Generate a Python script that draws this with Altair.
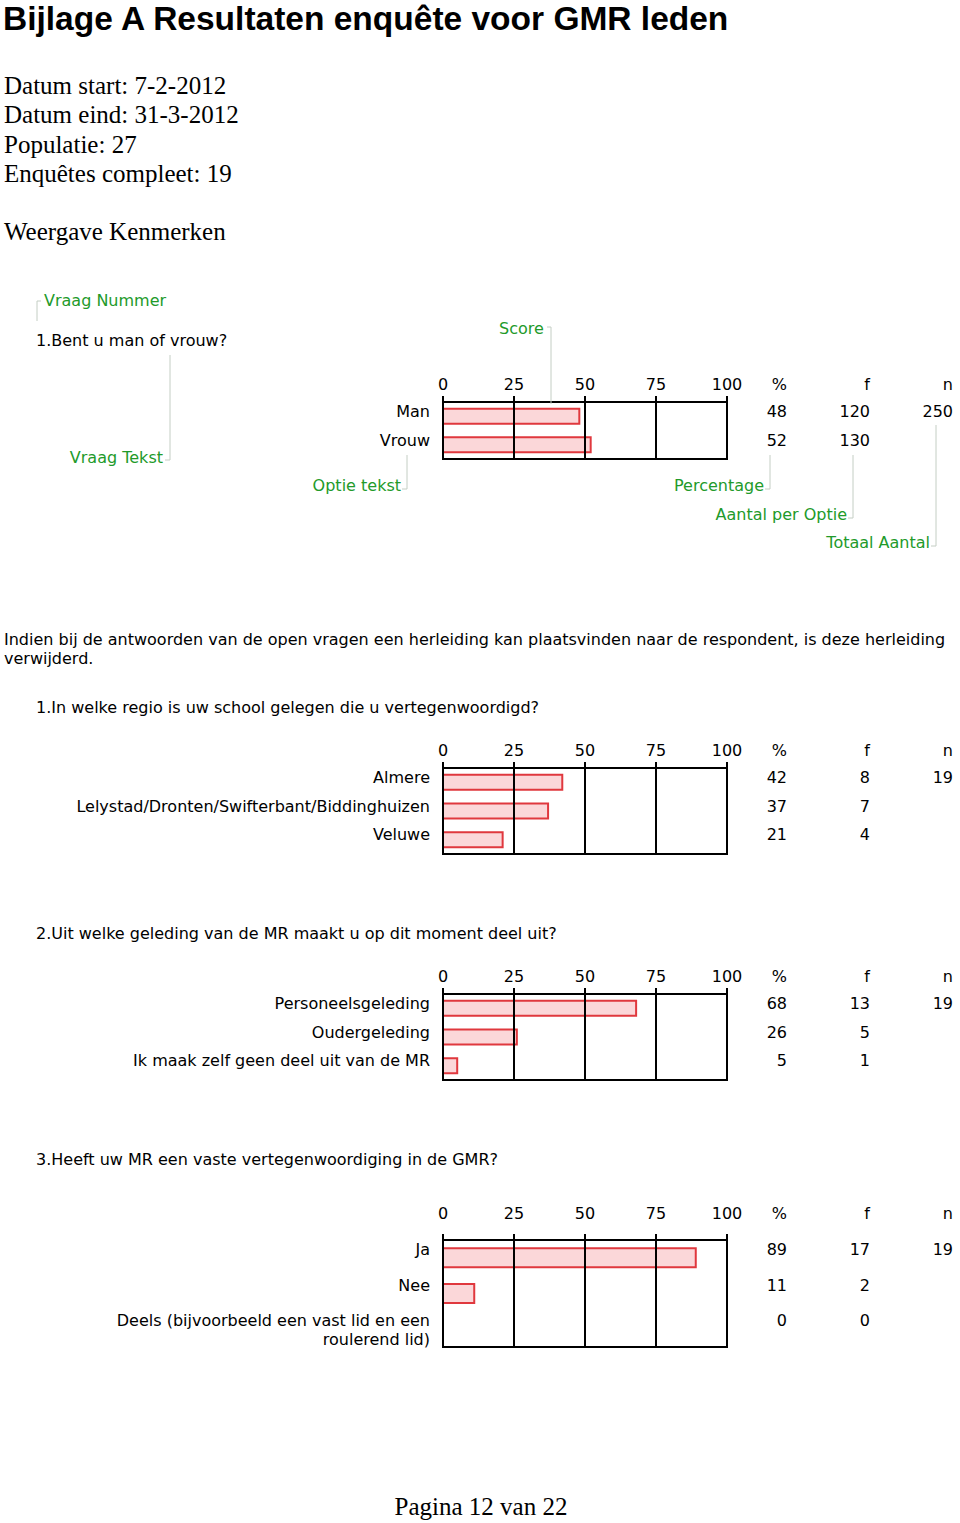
import altair as alt
import pandas as pd

SANS = "DejaVu Sans"
SERIF = "Liberation Serif"
TITLE_FONT = "Liberation Sans"
GREEN = "#229a2a"
LEADER = "#c4cec4"
BAR_FILL = "#fbd7d9"
BAR_STROKE = "#e0383e"

# ---------------- data ----------------
title = "Bijlage A Resultaten enquête voor GMR leden"
info_lines = ["Datum start: 7-2-2012", "Datum eind: 31-3-2012", "Populatie: 27", "Enquêtes compleet: 19"]
subtitle = "Weergave Kenmerken"
disclaimer = ["Indien bij de antwoorden van de open vragen een herleiding kan plaatsvinden naar de respondent, is deze herleiding",
              "verwijderd."]
footer = "Pagina 12 van 22"

ticks = [0, 25, 50, 75, 100]
columns = ["%", "f", "n"]

ex_question = "1.Bent u man of vrouw?"
ex_options = ["Man", "Vrouw"]
ex_pct = [48, 52]
ex_freq = [120, 130]
ex_n = 250

q1_question = "1.In welke regio is uw school gelegen die u vertegenwoordigd?"
q1_options = ["Almere", "Lelystad/Dronten/Swifterbant/Biddinghuizen", "Veluwe"]
q1_pct = [42, 37, 21]
q1_freq = [8, 7, 4]
q1_n = 19

q2_question = "2.Uit welke geleding van de MR maakt u op dit moment deel uit?"
q2_options = ["Personeelsgeleding", "Oudergeleding", "Ik maak zelf geen deel uit van de MR"]
q2_pct = [68, 26, 5]
q2_freq = [13, 5, 1]
q2_n = 19

q3_question = "3.Heeft uw MR een vaste vertegenwoordiging in de GMR?"
q3_options = ["Ja", "Nee", "Deels (bijvoorbeeld een vast lid en een\nroulerend lid)"]
q3_pct = [89, 11, 0]
q3_freq = [17, 2, 0]
q3_n = 19

# ---------------- helpers ----------------
ONE = pd.DataFrame({"k": [0]})


def text_layer(text, x, y, align="left", color="black", font=SANS, size=16,
               weight="normal", line_height=19):
    return alt.Chart(pd.DataFrame({"t": [text]})).mark_text(
        align=align, baseline="alphabetic", color=color, font=font,
        fontSize=size, fontWeight=weight, lineBreak="\n", lineHeight=line_height
    ).encode(x=alt.value(x), y=alt.value(y), text="t:N")


def vline(x, y1, y2):
    return alt.Chart(ONE).mark_rule(color=LEADER, strokeWidth=1).encode(
        x=alt.value(x), y=alt.value(y1), y2=alt.value(y2))


def hline(x1, x2, y):
    return alt.Chart(ONE).mark_rule(color=LEADER, strokeWidth=1).encode(
        x=alt.value(x1), x2=alt.value(x2), y=alt.value(y))


def panel(question, options, pct, freq, n, q_y, tick_y, top, bottom, bar_size):
    xs = alt.Scale(domain=[ticks[0], ticks[-1]], range=[443, 727], nice=False, zero=True)
    ys = alt.Scale(type="band", domain=options, range=[top, bottom], paddingInner=0, paddingOuter=0)
    cs = alt.Scale(type="point", domain=columns, range=[787, 953], padding=0)
    rows = pd.DataFrame({"option": options, "pct": pct, "f": freq})
    cells = []
    for i, o in enumerate(options):
        cells.append({"option": o, "col": "%", "val": str(pct[i])})
        cells.append({"option": o, "col": "f", "val": str(freq[i])})
        if i == 0:
            cells.append({"option": o, "col": "n", "val": str(n)})
    cells = pd.DataFrame(cells)
    tick_df = pd.DataFrame({"tick": ticks})
    frame = pd.DataFrame({"lo": [ticks[0]], "hi": [ticks[-1]]})

    q = text_layer(question, 36, q_y)
    tick_labels = alt.Chart(tick_df).mark_text(
        align="center", baseline="alphabetic", font=SANS, fontSize=16, color="black"
    ).encode(x=alt.X("tick:Q", scale=xs, axis=None), y=alt.value(tick_y), text="tick:N")
    heads = alt.Chart(pd.DataFrame({"col": columns})).mark_text(
        align="right", baseline="alphabetic", font=SANS, fontSize=16, color="black"
    ).encode(x=alt.X("col:N", scale=cs, axis=None), y=alt.value(tick_y), text="col:N")
    labels = alt.Chart(rows).mark_text(
        align="right", baseline="alphabetic", font=SANS, fontSize=16, color="black",
        dy=15, lineBreak="\n", lineHeight=19
    ).encode(x=alt.value(430), y=alt.Y("option:N", scale=ys, axis=None, bandPosition=0),
             text="option:N")
    bars = alt.Chart(rows).transform_filter("datum.pct > 0").mark_bar(
        size=bar_size, fill=BAR_FILL, stroke=BAR_STROKE, strokeWidth=2
    ).encode(x=alt.X("pct:Q", scale=xs, axis=None), y=alt.Y("option:N", scale=ys, axis=None))
    box = alt.Chart(frame).mark_rect(
        fillOpacity=0, stroke="black", strokeWidth=2
    ).encode(x=alt.X("lo:Q", scale=xs, axis=None), x2="hi:Q",
             y=alt.value(top), y2=alt.value(bottom))
    grid = alt.Chart(tick_df).mark_rule(color="black", strokeWidth=2).encode(
        x=alt.X("tick:Q", scale=xs, axis=None), y=alt.value(top - 6), y2=alt.value(bottom))
    vals = alt.Chart(cells).mark_text(
        align="right", baseline="alphabetic", font=SANS, fontSize=16, color="black", dy=15
    ).encode(x=alt.X("col:N", scale=cs, axis=None),
             y=alt.Y("option:N", scale=ys, axis=None, bandPosition=0), text="val:N")
    return [q, tick_labels, heads, labels, bars, box, grid, vals]


def block(layers, h):
    return alt.layer(*layers).resolve_scale(x="independent").properties(width=960, height=h)


# ---------------- blocks ----------------
b0 = block([
    text_layer(title, 3, 30, font=TITLE_FONT, size=33.5, weight="bold"),
    text_layer("\n".join(info_lines), 4, 94, font=SERIF, size=25, line_height=29.3),
    text_layer(subtitle, 4, 240, font=SERIF, size=25),
], 280)

legend_layers = panel(ex_question, ex_options, ex_pct, ex_freq, ex_n, 66, 110, 122, 179, 15)
legend_layers += [
    vline(37, 21, 41), hline(37, 41, 21),
    text_layer("Vraag Nummer", 44, 26, color=GREEN),
    vline(170, 75, 180), hline(165, 170, 180),
    text_layer("Vraag Tekst", 163, 183, align="right", color=GREEN),
    vline(551, 47, 124), hline(547, 551, 47),
    text_layer("Score", 499, 54, color=GREEN),
    vline(407, 175, 209), hline(402, 407, 209),
    text_layer("Optie tekst", 401, 211, align="right", color=GREEN),
    vline(770, 175, 209), hline(765, 770, 209),
    text_layer("Percentage", 764, 211, align="right", color=GREEN),
    vline(853, 175, 238), hline(848, 853, 238),
    text_layer("Aantal per Optie", 847, 240, align="right", color=GREEN),
    vline(936, 145, 266), hline(931, 936, 266),
    text_layer("Totaal Aantal", 930, 268, align="right", color=GREEN),
]
b1 = block(legend_layers, 320)

b2 = block([text_layer("\n".join(disclaimer), 4, 45, line_height=19)], 90)

b3 = block(panel(q1_question, q1_options, q1_pct, q1_freq, q1_n, 23, 66, 78, 164, 15), 225)
b4 = block(panel(q2_question, q2_options, q2_pct, q2_freq, q2_n, 24, 67, 79, 165, 15), 225)
b5 = block(panel(q3_question, q3_options, q3_pct, q3_freq, q3_n, 25, 79, 100, 207, 19), 260)
b6 = block([text_layer(footer, 481, 115, align="center", font=SERIF, size=25)], 123)

chart = alt.vconcat(b0, b1, b2, b3, b4, b5, b6, spacing=0, bounds="flush").properties(
    padding=0
).configure_view(stroke=None)

chart.save("out.html", embed_options={"renderer": "svg", "actions": False})
